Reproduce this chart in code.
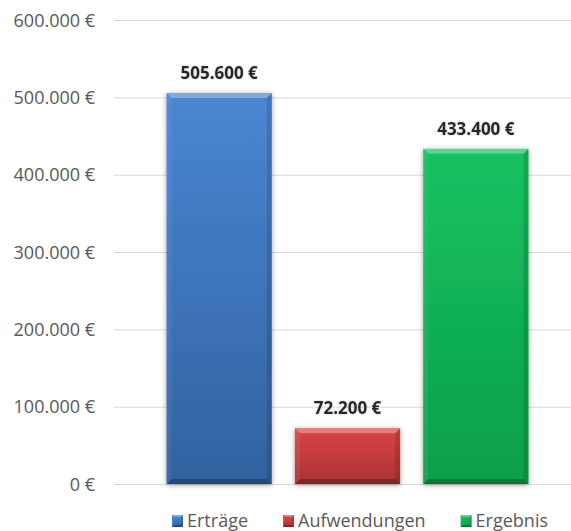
<!DOCTYPE html>
<html>
<head>
<meta charset="utf-8">
<script src="https://cdn.jsdelivr.net/npm/d3@7"></script>
<style>
  body { margin: 0; background: #fff; }
  text { font-family: "Open Sans", sans-serif; }
</style>
</head>
<body>
<div id="chart"></div>
<script>
// chart data
const categories = ["Erträge", "Aufwendungen", "Ergebnis"];
const values = [505600, 72200, 433400];
const yTicks = [0, 100000, 200000, 300000, 400000, 500000, 600000];

// colours per bar: light top, dark bottom
const barColors = [
  { top: "#4a86d3", bottom: "#31629f" },
  { top: "#da4444", bottom: "#aa3333" },
  { top: "#16c260", bottom: "#0c9f4a" },
];

const width = 571;
const height = 531;

const de = d3.formatLocale({
  decimal: ",",
  thousands: ".",
  grouping: [3],
  currency: ["", " €"],
});
const fmt = (d) => de.format(",.0f")(d) + " €";

const svg = d3
  .select("#chart")
  .append("svg")
  .attr("width", width)
  .attr("height", height);

const defs = svg.append("defs");

barColors.forEach((c, i) => {
  const g = defs
    .append("linearGradient")
    .attr("id", "grad" + i)
    .attr("x1", 0).attr("y1", 0)
    .attr("x2", 0).attr("y2", 1);
  g.append("stop").attr("offset", "0%").attr("stop-color", c.top);
  g.append("stop").attr("offset", "100%").attr("stop-color", c.bottom);
});

// soft shadow around the bars
const shadow = defs.append("filter").attr("id", "shadow")
  .attr("x", "-20%").attr("y", "-20%").attr("width", "140%").attr("height", "140%");
shadow.append("feDropShadow")
  .attr("dx", 0).attr("dy", 1)
  .attr("stdDeviation", 2.5)
  .attr("flood-color", "#000")
  .attr("flood-opacity", 0.4);

const labelGlow = defs.append("filter").attr("id", "glow");
labelGlow.append("feDropShadow")
  .attr("dx", 0).attr("dy", 0)
  .attr("stdDeviation", 1)
  .attr("flood-color", "#999")
  .attr("flood-opacity", 0.6);

// scales
const x = d3
  .scaleBand()
  .domain(categories)
  .range([155, 540])
  .paddingInner(0.18)
  .paddingOuter(0.09);

const y = d3
  .scaleLinear()
  .domain([0, 600000])
  .range([484, 20]);

// gridlines
svg
  .append("g")
  .selectAll("line")
  .data(yTicks)
  .enter()
  .append("line")
  .attr("x1", 114)
  .attr("x2", width)
  .attr("y1", (d) => y(d) + 0.5)
  .attr("y2", (d) => y(d) + 0.5)
  .attr("stroke", "#d9d9d9")
  .attr("stroke-width", 1);

// y axis labels
svg
  .append("g")
  .selectAll("text")
  .data(yTicks)
  .enter()
  .append("text")
  .attr("x", 95)
  .attr("y", (d) => y(d) + 6.5)
  .attr("text-anchor", "end")
  .attr("font-size", 18)
  .attr("fill", "#595959")
  .text(fmt);

// bevelled box used by bars and legend markers
function bevelBox(g, x0, y0, w, h, i, b) {
  g.append("rect")
    .attr("x", x0).attr("y", y0)
    .attr("width", w).attr("height", h)
    .attr("fill", `url(#grad${i})`);
  const x1 = x0 + w, y1 = y0 + h;
  const poly = (pts, fill, op) =>
    g.append("polygon")
      .attr("points", pts.map((p) => p.join(",")).join(" "))
      .attr("fill", fill)
      .attr("fill-opacity", op);
  poly([[x0, y0], [x1, y0], [x1 - b, y0 + b], [x0 + b, y0 + b]], "#fff", 0.3);
  poly([[x0, y0], [x0 + b, y0 + b], [x0 + b, y1 - b], [x0, y1]], "#fff", 0.06);
  poly([[x1, y0], [x1, y1], [x1 - b, y1 - b], [x1 - b, y0 + b]], "#000", 0.12);
  poly([[x0, y1], [x0 + b, y1 - b], [x1 - b, y1 - b], [x1, y1]], "#000", 0.25);
}

// bars
const bars = svg.append("g");
values.forEach((v, i) => {
  const g = bars.append("g").attr("filter", "url(#shadow)");
  bevelBox(g, x(categories[i]), y(v), x.bandwidth(), y(0) - y(v), i, 5);
});

// value labels
svg
  .append("g")
  .selectAll("text")
  .data(values)
  .enter()
  .append("text")
  .attr("x", (d, i) => x(categories[i]) + x.bandwidth() / 2)
  .attr("y", (d) => y(d) - 14)
  .attr("text-anchor", "middle")
  .attr("font-size", 17)
  .attr("font-weight", "bold")
  .attr("fill", "#262626")
  .attr("filter", "url(#glow)")
  .text(fmt);

// legend
const legend = svg.append("g");
let lx = 172;
categories.forEach((c, i) => {
  const item = legend.append("g");
  bevelBox(item, lx, 515, 11, 12, i, 2);
  const t = item
    .append("text")
    .attr("x", lx + 15)
    .attr("y", 527)
    .attr("font-size", 18)
    .attr("fill", "#595959")
    .text(c);
  lx += 15 + t.node().getComputedTextLength() + 35;
});
</script>
</body>
</html>
